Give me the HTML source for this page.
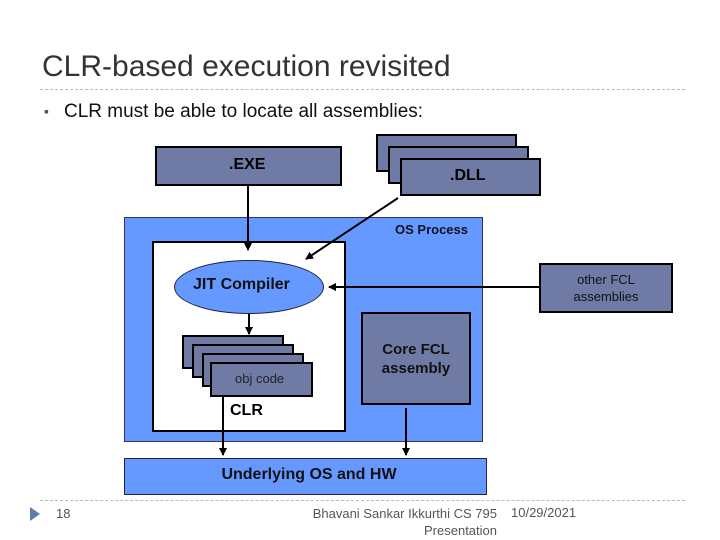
<!DOCTYPE html>
<html><head><style>
body{margin:0;width:720px;height:540px;background:#fff;position:relative;overflow:hidden;font-family:"Liberation Sans",sans-serif}
.a{position:absolute;box-sizing:border-box}
.g{background:#6f7ba5;border:2px solid #000}
.t{position:absolute;white-space:nowrap}
</style></head><body>
<div class="t" style="left:42px;top:50px;font-size:30px;color:#333">CLR-based execution revisited</div>
<div class="a" style="left:40px;top:89px;width:645px;border-top:1px dashed #bbb"></div>
<div class="t" style="left:44px;top:103px;font-size:14px;color:#555">&#xFEFF;▪</div>
<div class="t" style="left:64px;top:101px;font-size:19px;color:#111">CLR must be able to locate all assemblies:</div>

<div class="a" style="left:124px;top:217px;width:359px;height:225px;background:#6699ff;border:1px solid #336"></div>
<div class="a" style="left:152px;top:241px;width:194px;height:191px;background:#fff;border:2px solid #000"></div>
<div class="t" style="left:395px;top:222px;font-size:13px;font-weight:bold;color:#112">OS Process</div>

<div class="a g" style="left:155px;top:146px;width:187px;height:40px"></div>
<div class="t" style="left:229px;top:156px;font-size:16px;font-weight:bold;color:#000">.EXE</div>
<div class="a g" style="left:376px;top:134px;width:141px;height:38px"></div>
<div class="a g" style="left:388px;top:146px;width:141px;height:38px"></div>
<div class="a g" style="left:400px;top:158px;width:141px;height:38px"></div>
<div class="t" style="left:450px;top:167px;font-size:16px;font-weight:bold;color:#000">.DLL</div>

<div class="a" style="left:174px;top:260px;width:150px;height:54px;border-radius:50%;background:#6699ff;border:1px solid #224"></div>
<div class="t" style="left:193px;top:276px;font-size:16px;font-weight:bold;color:#111">JIT Compiler</div>

<div class="a g" style="left:182px;top:335px;width:102px;height:34px"></div>
<div class="a g" style="left:192px;top:344px;width:102px;height:34px"></div>
<div class="a g" style="left:202px;top:353px;width:102px;height:34px"></div>
<div class="a g" style="left:210px;top:362px;width:103px;height:35px"></div>
<div class="t" style="left:235px;top:371px;font-size:13px;color:#222">obj code</div>
<div class="t" style="left:230px;top:402px;font-size:16px;font-weight:bold;color:#000">CLR</div>

<div class="a g" style="left:361px;top:312px;width:110px;height:93px"></div>
<div class="t" style="left:361px;top:340px;width:110px;text-align:center;font-size:15px;font-weight:bold;line-height:19px;color:#111">Core FCL<br>assembly</div>

<div class="a g" style="left:539px;top:263px;width:134px;height:50px"></div>
<div class="t" style="left:539px;top:271px;width:134px;text-align:center;font-size:13px;line-height:17px;color:#111">other FCL<br>assemblies</div>

<div class="a" style="left:124px;top:458px;width:363px;height:37px;background:#6699ff;border:1px solid #224"></div>
<div class="t" style="left:124px;top:466px;width:370px;text-align:center;font-size:16px;font-weight:bold;color:#111">Underlying OS and HW</div>

<svg class="a" style="left:0;top:0" width="720" height="540">
<defs><marker id="m" markerWidth="8" markerHeight="8" refX="7" refY="4" orient="auto" markerUnits="userSpaceOnUse"><path d="M0,0L8,4L0,8z" fill="#000"/></marker></defs>
<g stroke="#000" stroke-width="2" fill="none" marker-end="url(#m)">
<line x1="248" y1="186" x2="248" y2="250"/>
<line x1="398" y1="198" x2="306" y2="259"/>
<line x1="539" y1="287" x2="329" y2="287"/>
<line x1="249" y1="314" x2="249" y2="334"/>
<line x1="223" y1="397" x2="223" y2="455"/>
<line x1="406" y1="408" x2="406" y2="455"/>
</g>
</svg>

<div class="a" style="left:40px;top:500px;width:645px;border-top:1px dashed #bbb"></div>
<div class="a" style="left:30px;top:507px;width:0;height:0;border-left:10px solid #5b7fa6;border-top:7px solid transparent;border-bottom:7px solid transparent"></div>
<div class="t" style="left:56px;top:506px;font-size:13px;color:#555">18</div>
<div class="t" style="left:297px;top:505px;width:200px;text-align:right;font-size:13px;line-height:17px;color:#555">Bhavani Sankar Ikkurthi CS 795<br>Presentation</div>
<div class="t" style="left:511px;top:505px;font-size:13px;color:#555">10/29/2021</div>
</body></html>
